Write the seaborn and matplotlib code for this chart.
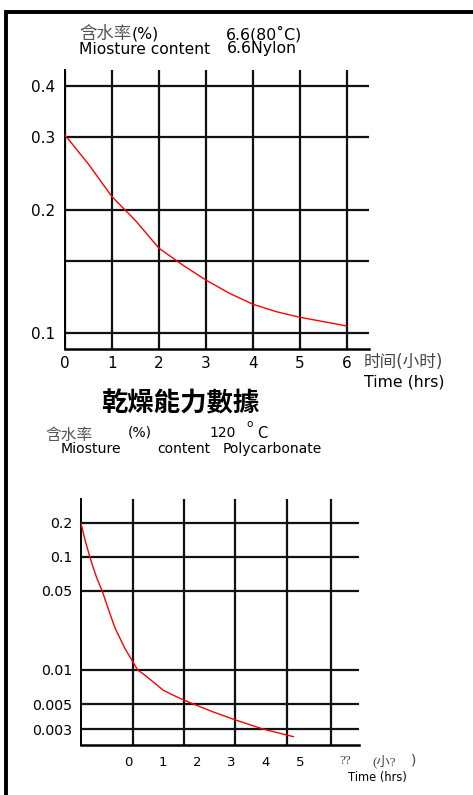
import matplotlib
matplotlib.use("Agg")
import matplotlib.pyplot as plt
import seaborn as sns
from matplotlib.patches import Rectangle
from matplotlib.ticker import NullLocator

# Nylon 6.6 at 80 C: moisture content (%) vs time (hrs)
nylon_hours = [0, 0.5, 1, 1.5, 2, 2.5, 3, 3.5, 4, 4.5, 5, 5.5, 6]
nylon_moist = [0.304, 0.258, 0.215, 0.188, 0.161, 0.1466, 0.1346, 0.125,
               0.1175, 0.1127, 0.1092, 0.1066, 0.104]
nylon_yticks = [0.1, 0.15, 0.2, 0.3, 0.4]
nylon_ylabels = ["0.1", "", "0.2", "0.3", "0.4"]
nylon_xticks = [0, 1, 2, 3, 4, 5, 6]

# Polycarbonate at 120 C
pc_hours = [-1.37, -1.25, -1.11, -1.01, -0.91, -0.75, -0.57, -0.38, -0.09,
            0.06, 0.28, 0.45, 0.74, 1.03, 1.46, 1.90, 2.48, 3.14, 3.93, 4.81]
pc_moist = [0.2, 0.1416, 0.1, 0.0804, 0.0653, 0.05, 0.0345, 0.0236, 0.0155,
            0.013, 0.01, 0.0092, 0.0078, 0.0066, 0.0057, 0.005, 0.00425,
            0.0036, 0.003, 0.00257]
pc_yticks = [0.003, 0.005, 0.01, 0.05, 0.1, 0.2]
pc_ylabels = ["0.003", "0.005", "0.01", "0.05", "0.1", "0.2"]
pc_xticks = [0, 1, 2, 3, 4, 5]
pc_xgrid = [0.15, 1.63, 3.11, 4.62, 5.9]

sns.set_theme(style="white")
plt.rcParams["font.family"] = ["DejaVu Sans", "Noto Sans CJK TC"]

W, H = 473, 795
fig = plt.figure(figsize=(W / 100, H / 100), dpi=100)
fig.patch.set_facecolor("white")


def px(x, y):
    return x / W, 1 - y / H


def label(x, y, s, **kw):
    kw.setdefault("fontsize", 11)
    kw.setdefault("color", "black")
    fig.text(*px(x, y), s, ha=kw.pop("ha", "left"), va="center", **kw)


# outer frame (open at right and bottom)
fig.add_artist(Rectangle((6 / W, -0.2), 1.5, 1.2 - 11.5 / H, transform=fig.transFigure,
                         fill=False, lw=2.8, edgecolor="black", clip_on=False))


def style_axes(ax):
    ax.set_facecolor("white")
    for side in ["top", "right"]:
        ax.spines[side].set_visible(False)
    for side in ["left", "bottom"]:
        ax.spines[side].set_color("black")
    ax.spines["left"].set_linewidth(1.4)
    ax.spines["bottom"].set_linewidth(1.8)
    ax.set_xlabel("")
    ax.set_ylabel("")


# ---- top chart: Nylon 6.6 ----
ax1 = fig.add_axes([65 / W, 1 - 349 / H, (369 - 65) / W, (349 - 70) / H])
sns.lineplot(x=nylon_hours, y=nylon_moist, ax=ax1, color="red", lw=1.0,
             sort=False, estimator=None, zorder=5)
ax1.set_yscale("log")
ax1.set_xlim(0, 6.47)
ax1.set_ylim(0.0914, 0.438)
ax1.set_yticks(nylon_yticks, nylon_ylabels)
ax1.yaxis.set_minor_locator(NullLocator())
ax1.set_xticks(nylon_xticks)
ax1.grid(True, which="major", color="#111111", lw=1.6)
ax1.tick_params(length=0, labelsize=11, labelcolor="black")
ax1.tick_params(axis="y", pad=7)
ax1.tick_params(axis="x", pad=5)
style_axes(ax1)

label(79, 34, "含水率", color="#555555", fontsize=12.5)
label(132, 34, "(%)", fontsize=11.3)
label(226, 34, "6.6(80˚C)", fontsize=11.3)
label(79, 49, "Miosture content", fontsize=11.2)
label(227, 49, "6.6Nylon", fontsize=11.3)
label(364, 362, "时间(小时)", color="#444444", fontsize=12,
      family=["DejaVu Sans", "Noto Sans CJK SC"])
label(364, 382, "Time (hrs)", fontsize=11.3)

# ---- title ----
label(180, 404, "乾燥能力數據", ha="center", fontsize=19, fontweight="bold")

# ---- bottom chart: Polycarbonate ----
ax2 = fig.add_axes([81 / W, 1 - 745 / H, (359 - 81) / W, (745 - 499) / H])
sns.lineplot(x=pc_hours, y=pc_moist, ax=ax2, color="red", lw=1.0,
             sort=False, estimator=None, zorder=5)
ax2.set_yscale("log")
ax2.set_xlim(-1.366, 6.715)
ax2.set_ylim(0.00217, 0.325)
ax2.set_yticks(pc_yticks, pc_ylabels)
ax2.yaxis.set_minor_locator(NullLocator())
ax2.set_xticks(pc_xticks)
ax2.set_xticks(pc_xgrid, minor=True)
ax2.grid(False)
ax2.grid(True, which="major", axis="y", color="#111111", lw=1.6)
ax2.grid(True, which="minor", axis="x", color="#111111", lw=1.6)
ax2.tick_params(which="both", length=0, labelcolor="black")
ax2.tick_params(axis="y", labelsize=10.2, pad=6.5)
ax2.tick_params(axis="x", labelsize=9.5, pad=8)
style_axes(ax2)

label(45, 435, "含水率", color="#555555", fontsize=11.3)
label(128, 433, "(%)", fontsize=10)
label(209, 433, "120", fontsize=10)
label(246, 424, "o", fontsize=7.5)
label(257, 433, "C", fontsize=10.5)
label(61, 449, "Miosture", fontsize=10.1)
label(157, 449, "content", fontsize=10)
label(223, 449, "Polycarbonate", fontsize=10)
label(339, 761, "??", color="#444444", fontsize=9.5, family="Liberation Serif")
label(372, 761, "(小?", color="#444444", fontsize=9.5,
      family=["Liberation Serif", "Noto Sans CJK SC"])
label(411, 761, ")", color="#444444", fontsize=10)
label(348, 778, "Time (hrs)", fontsize=8.3)

fig.savefig("out.png", dpi=100, facecolor="white")
